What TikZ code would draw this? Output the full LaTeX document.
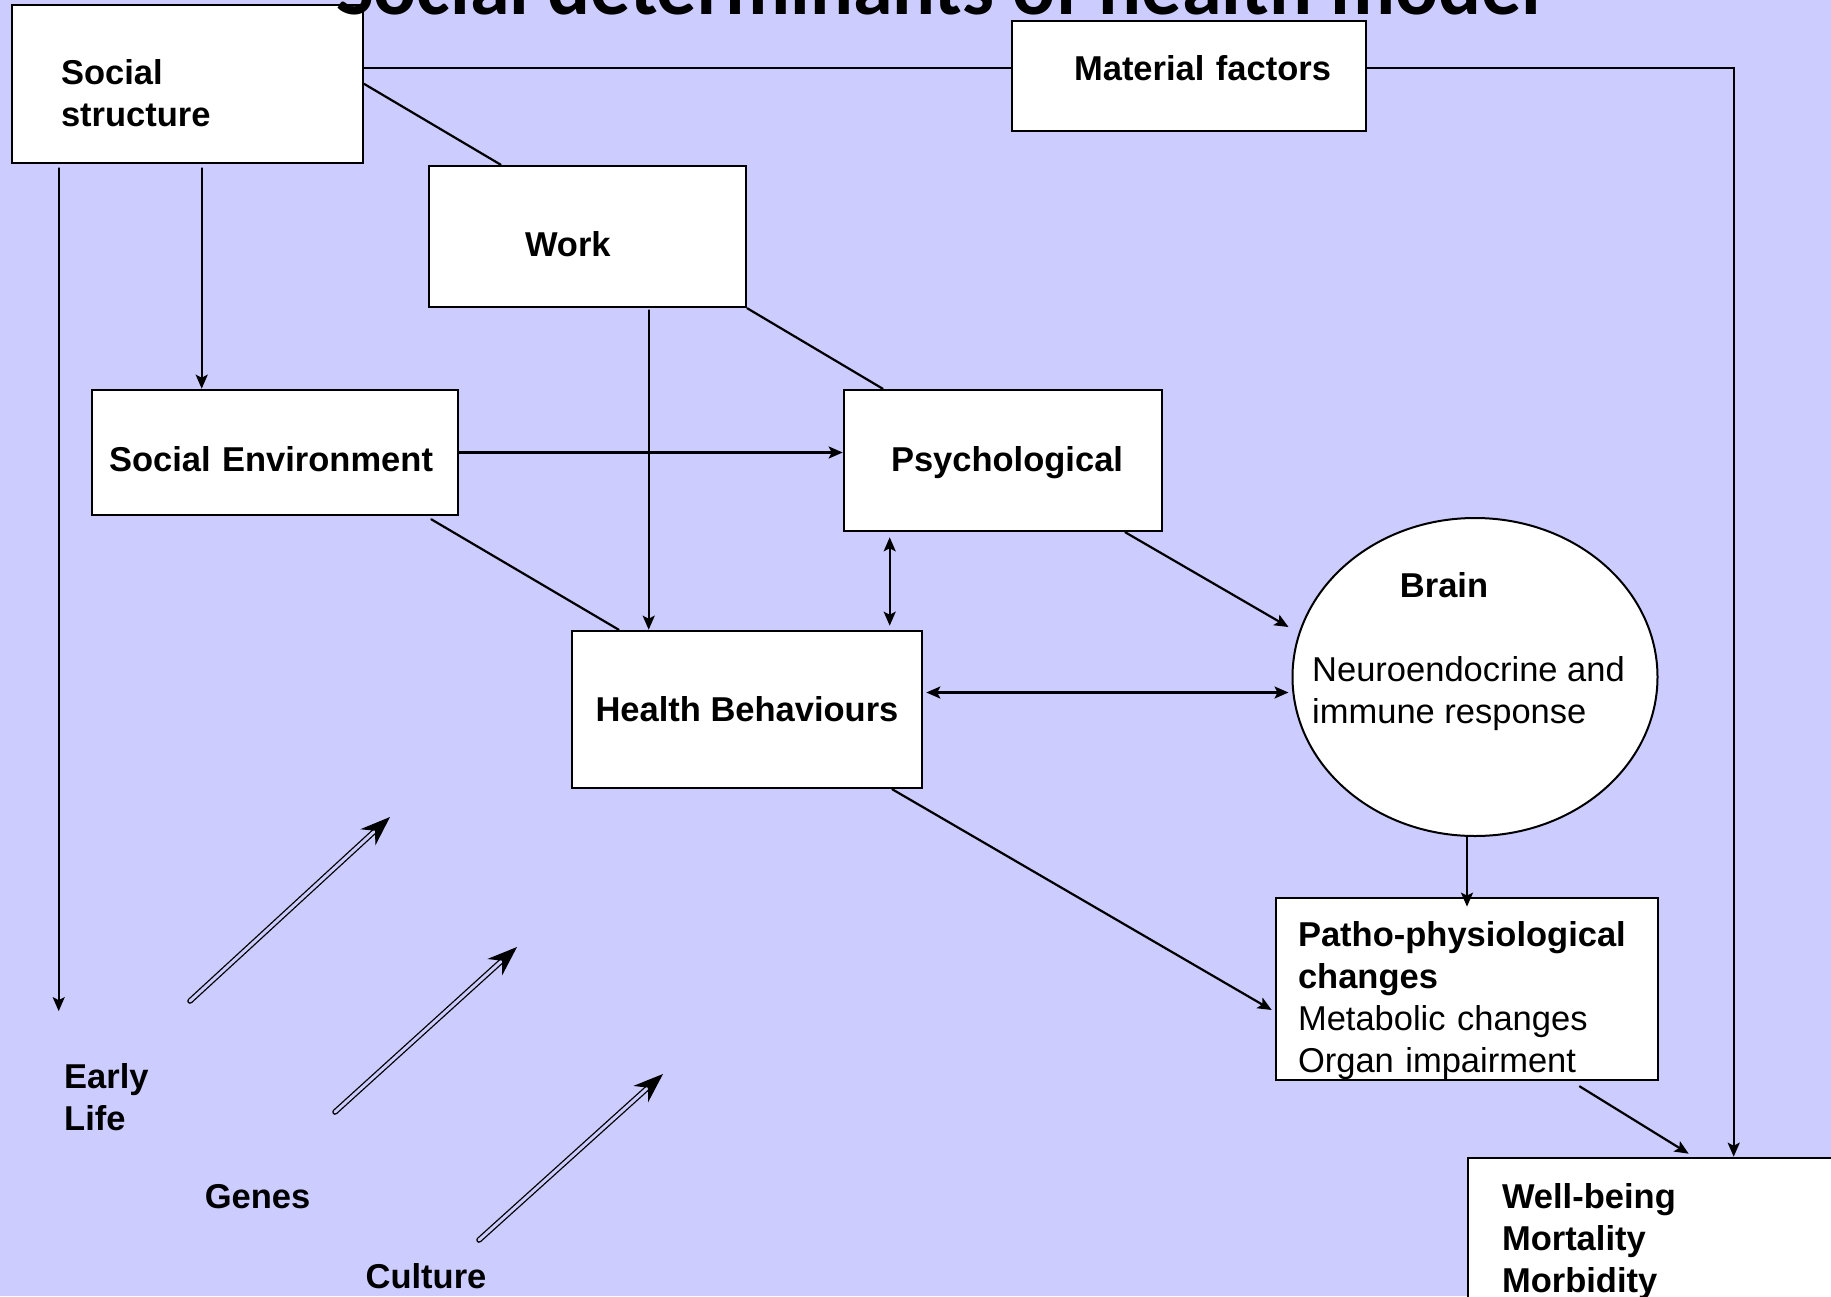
\documentclass[tikz,border=0pt]{standalone}
\usepackage{fontspec}
\setmainfont{Liberation Sans}
\newfontfamily\titlefont{Carlito}
\usetikzlibrary{arrows.meta,shapes.geometric,calc}
\definecolor{slidebg}{RGB}{204,204,255}

\begin{document}
\begin{tikzpicture}[x=1pt,y=-1pt,>={Stealth[length=14pt,width=12pt,inset=3pt]},line cap=round,
				box/.style={draw,fill=white,line width=2.6pt,inner sep=0pt,font=\fontsize{34.5}{42}\selectfont\bfseries},
				txt/.style={inner sep=0pt,align=left,font=\fontsize{34.5}{42}\selectfont},
				lbl/.style={txt,font=\fontsize{34.5}{42}\selectfont\bfseries},
				conn/.style={line width=2.2pt},
				dbl/.style={double=slidebg,double distance=3pt,line width=1.3pt,-{Stealth[length=30pt,width=22pt]}}]
				\useasboundingbox (0,0) rectangle (1831,1296);
				\clip (0,0) rectangle (1831,1296);
				\fill[slidebg] (0,0) rectangle (1831,1296);
				%\draw[help lines,step=100] (0,0) grid (1831,1296);
				\node[box,minimum width=351pt,minimum height=158pt,text width=253pt,align=left,text height=43pt] (ss) at (187.5,84) {Social\\structure};
				\node[box,minimum width=354pt,minimum height=110pt,text width=284pt,align=right,text depth=16pt] (mat) at (1189,76) {Material factors};
				\node[box,minimum width=317pt,minimum height=141pt,text width=125pt,align=left,text height=41pt] (work) at (587.5,236.5) {Work};
				\node[box,minimum width=366pt,minimum height=125pt,text width=332pt,align=left,text height=39pt] (se) at (275,452.5) {Social Environment};
				\node[box,minimum width=318pt,minimum height=141pt,text width=240pt,align=right,text height=29pt] (psy) at (1003,460.5) {Psychological};
				\node[box,minimum width=350pt,minimum height=157pt] (hb) at (747,709.5) {Health Behaviours};
				\node[draw,ellipse,fill=white,line width=2pt,minimum width=365pt,minimum height=318pt,inner sep=0pt] (brain) at (1475,677) {};
				\node[lbl] (braintitle) at (1444,585) {Brain};
				\node[txt,anchor=west] (brainresp) at (1312,694) {Neuroendocrine and\\immune response};
				\node[box,font=\fontsize{34.5}{42}\selectfont,minimum width=382pt,minimum height=172pt,text width=338pt,align=left,text height=49pt] (pat) at (1467,989)
					{\textbf{Patho-physiological}\\\textbf{changes}\\Metabolic changes\\Organ impairment};
				\node[box,minimum width=382pt,minimum height=162pt,text width=314pt,align=left,text height=31pt] (wb) at (1659,1239) {Well-being\\Mortality\\Morbidity};
				\node[lbl,anchor=west] (early) at (64,1097) {Early\\Life};
				\node[lbl] (genes) at (257.5,1197) {Genes};
				\node[lbl] (culture) at (426,1276) {Culture};
				
				% connectors
				\draw[conn] ($(mat.west)+(0,-8)$) coordinate (mw) -- (mw -| ss.east);
				\draw[conn,->] ($(mat.east)+(0,-8)$) -| ($(wb.north west)+(267,0)$);
				\draw[conn] (ss.east) -- ($(work.north west)+(73,0)$);
				\draw[conn,->,shorten >=52pt] ($(ss.south west)+(48,4)$) coordinate (sl) -- (sl |- early.north);
				\draw[conn,->] ($(ss.south west)+(191,4)$) coordinate (sr) -- (sr |- se.north);
				\draw[conn,->] ($(work.south west)+(221,2)$) coordinate (wd) -- (wd |- hb.north);
				\draw[conn] (work.south east) -- ($(psy.north west)+(40,0)$);
				\draw[conn,->] (se.east) -- (se.east -| psy.west);
				\draw[conn] ($(se.south east)+(-28,3)$) -- ($(hb.north west)+(48,0)$);
				\draw[conn,<->,shorten >=4pt] ($(psy.south west)+(47,5)$) coordinate (pd) -- (pd |- hb.north);
				\draw[conn,->] ($(psy.south east)+(-38,0)$) -- ($(brain.west)+(-3,-50)$);
				\draw[conn,<->,shorten >=3pt] ($(hb.east)+(3,-17)$) coordinate (hr) -- (hr -| brain.west);
				\draw[conn,->] ($(hb.south east)+(-31,0)$) -- ($(pat.west)+(-3,21)$);
				\draw[conn,->,shorten >=-10pt] (pat.north |- brain.south) -- (pat.north);
				\draw[conn,->] ($(pat.south west)+(305,5)$) -- ($(wb.north west)+(222,-3)$);
				\foreach \name/\from/\to in {early/{190,1001}/{390,817},genes/{335,1112}/{517,947},culture/{479,1240}/{663,1074}}
				{\coordinate (\name-a) at (\from);
					\coordinate (\name-b) at (\to);
					\draw[dbl] (\name-a) -- (\name-b);}
				
				\node[font=\titlefont\bfseries\fontsize{80}{96}\selectfont,anchor=base,inner sep=0pt] (title) at (938.5,14) {Social determinants of health model};
			\end{tikzpicture}
\end{document}
